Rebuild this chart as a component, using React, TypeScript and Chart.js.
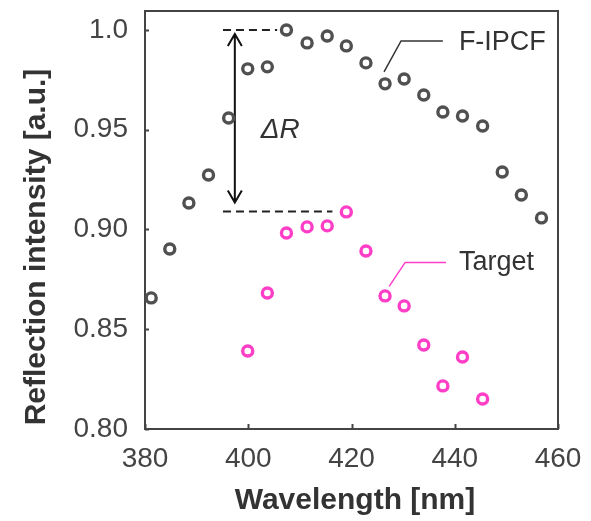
import React, { useEffect, useRef } from 'react';
import { Chart, registerables } from 'chart.js';

Chart.register(...registerables);

const wavelengths = [381.2, 384.8, 388.5, 392.3, 396.2, 399.9, 403.7, 407.4, 411.4, 415.3, 419.0, 422.8, 426.5, 430.2, 434.0, 437.7, 441.5, 445.4, 449.2, 452.9, 456.8];
const fipcfValues = [0.8657, 0.8902, 0.9133, 0.9273, 0.9559, 0.9805, 0.9815, 1.0, 0.9935, 0.997, 0.992, 0.9835, 0.973, 0.9754, 0.9674, 0.9589, 0.9569, 0.9519, 0.9288, 0.9173, 0.9058];
const targetWavelengths = [399.9, 403.7, 407.4, 411.4, 415.3, 419.0, 422.8, 426.5, 430.2, 434.0, 437.7, 441.5, 445.4];
const targetValues = [0.8391, 0.8682, 0.8982, 0.9013, 0.9018, 0.9088, 0.8892, 0.8667, 0.8617, 0.8421, 0.8216, 0.8361, 0.815];

const xTickValues = [380, 400, 420, 440, 460];
const xTickLabels = ['380', '400', '420', '440', '460'];
const yTickValues = [0.8, 0.85, 0.9, 0.95, 1.0];
const yTickLabels = ['0.80', '0.85', '0.90', '0.95', '1.0'];

const seriesNames = ['F-IPCF', 'Target'];
const xTitle = 'Wavelength [nm]';
const yTitle = 'Reflection intensity [a.u.]';
const deltaLabel = 'ΔR';

const GRAY = '#505050';
const PINK = '#ff3ec8';
const AXIS = '#444444';
const FONT = '"Liberation Sans", Arial, sans-serif';

const overlayPlugin = {
  id: 'overlay',
  beforeDatasetsDraw(chart: any) {
    const { ctx, chartArea } = chart;
    const xs = chart.scales.x;
    const ys = chart.scales.y;
    ctx.save();
    ctx.strokeStyle = AXIS;
    ctx.lineWidth = 2;
    ctx.strokeRect(chartArea.left, chartArea.top, chartArea.right - chartArea.left, chartArea.bottom - chartArea.top);
    ctx.lineWidth = 2;
    ctx.beginPath();
    yTickValues.forEach((v) => {
      const py = Math.round(ys.getPixelForValue(v)) + 0.5;
      ctx.moveTo(chartArea.left, py);
      ctx.lineTo(chartArea.left + 4, py);
    });
    xTickValues.forEach((v) => {
      const px = Math.round(xs.getPixelForValue(v)) + 0.5;
      ctx.moveTo(px, chartArea.bottom);
      ctx.lineTo(px, chartArea.bottom - 5);
    });
    ctx.stroke();

    // dashed reference lines
    ctx.strokeStyle = '#222222';
    ctx.lineWidth = 2;
    ctx.setLineDash([8, 5]);
    ctx.beginPath();
    ctx.moveTo(xs.getPixelForValue(395.1), ys.getPixelForValue(1.0));
    ctx.lineTo(xs.getPixelForValue(405.6), ys.getPixelForValue(1.0));
    ctx.moveTo(xs.getPixelForValue(395.1), ys.getPixelForValue(0.909));
    ctx.lineTo(xs.getPixelForValue(416.3), ys.getPixelForValue(0.909));
    ctx.stroke();
    ctx.setLineDash([]);

    // double arrow
    const ax = xs.getPixelForValue(397.4);
    const ay1 = ys.getPixelForValue(0.998);
    const ay2 = ys.getPixelForValue(0.9135);
    ctx.strokeStyle = '#111111';
    ctx.lineWidth = 2;
    ctx.beginPath();
    ctx.moveTo(ax, ay1);
    ctx.lineTo(ax, ay2);
    ctx.moveTo(ax - 7, ay1 + 12);
    ctx.lineTo(ax, ay1);
    ctx.lineTo(ax + 7, ay1 + 12);
    ctx.moveTo(ax - 7, ay2 - 12);
    ctx.lineTo(ax, ay2);
    ctx.lineTo(ax + 7, ay2 - 12);
    ctx.stroke();

    // leader lines
    ctx.lineWidth = 1.5;
    ctx.strokeStyle = '#333333';
    ctx.beginPath();
    ctx.moveTo(xs.getPixelForValue(426.3), ys.getPixelForValue(0.979));
    ctx.lineTo(xs.getPixelForValue(429.6), ys.getPixelForValue(0.9945));
    ctx.lineTo(xs.getPixelForValue(437.7), ys.getPixelForValue(0.9945));
    ctx.stroke();
    ctx.strokeStyle = PINK;
    ctx.beginPath();
    ctx.moveTo(xs.getPixelForValue(427.3), ys.getPixelForValue(0.8715));
    ctx.lineTo(xs.getPixelForValue(430.4), ys.getPixelForValue(0.8835));
    ctx.lineTo(xs.getPixelForValue(438.3), ys.getPixelForValue(0.8835));
    ctx.stroke();

    // labels
    ctx.fillStyle = '#333333';
    ctx.textBaseline = 'middle';
    ctx.textAlign = 'left';
    ctx.font = `27px ${FONT}`;
    ctx.fillText(seriesNames[0], xs.getPixelForValue(440.8), ys.getPixelForValue(0.9935));
    ctx.fillText(seriesNames[1], xs.getPixelForValue(440.8), ys.getPixelForValue(0.8835));
    ctx.font = `italic 28px ${FONT}`;
    ctx.textAlign = 'center';
    ctx.fillText(deltaLabel, xs.getPixelForValue(406.2), ys.getPixelForValue(0.950));

    // axis titles
    ctx.font = `bold 30px ${FONT}`;
    ctx.fillStyle = '#333333';
    ctx.textAlign = 'center';
    ctx.fillText(xTitle, 355, 501);
    ctx.translate(37, 247);
    ctx.rotate(-Math.PI / 2);
    ctx.fillText(yTitle, 0, 0);
    ctx.restore();
  },
};

export default function App() {
  const canvasRef = useRef<HTMLCanvasElement | null>(null);

  useEffect(() => {
    document.body.style.margin = '0';
    const canvas = canvasRef.current;
    if (!canvas) return;
    const chart = new Chart(canvas, {
      type: 'scatter',
      data: {
        datasets: [
          {
            label: seriesNames[0],
            data: wavelengths.map((x, i) => ({ x, y: fipcfValues[i] })),
            borderColor: GRAY,
            backgroundColor: 'rgba(255,255,255,0)',
            pointRadius: 5,
            pointBorderWidth: 3.4,
            pointHoverRadius: 5,
          },
          {
            label: seriesNames[1],
            data: targetWavelengths.map((x, i) => ({ x, y: targetValues[i] })),
            borderColor: PINK,
            backgroundColor: 'rgba(255,255,255,0)',
            pointRadius: 5,
            pointBorderWidth: 3.4,
            pointHoverRadius: 5,
          },
        ],
      },
      options: {
        responsive: false,
        animation: false,
        events: [],
        layout: { padding: { left: 0, right: 33, top: 11, bottom: 0 } },
        plugins: { legend: { display: false }, tooltip: { enabled: false } },
        scales: {
          x: {
            type: 'linear',
            min: 380,
            max: 460,
            grid: { display: false, drawTicks: false },
            border: { display: false },
            afterBuildTicks: (scale: any) => {
              scale.ticks = xTickValues.map((v) => ({ value: v }));
            },
            afterFit: (scale: any) => {
              scale.height = 92;
              scale.paddingLeft = 0;
              scale.paddingRight = 0;
            },
            ticks: {
              padding: 13,
              color: AXIS,
              font: { family: FONT, size: 28 },
              maxRotation: 0,
              callback: (v: any) => {
                const i = xTickValues.indexOf(Number(v));
                return i >= 0 ? xTickLabels[i] : '';
              },
            },
          },
          y: {
            type: 'linear',
            min: 0.8,
            max: 1.0095,
            grid: { display: false, drawTicks: false },
            border: { display: false },
            afterBuildTicks: (scale: any) => {
              scale.ticks = yTickValues.map((v) => ({ value: v }));
            },
            afterFit: (scale: any) => {
              scale.width = 145;
              scale.paddingTop = 0;
              scale.paddingBottom = 0;
            },
            ticks: {
              padding: 17,
              color: AXIS,
              font: { family: FONT, size: 28 },
              callback: (v: any) => {
                const i = yTickValues.findIndex((t) => Math.abs(t - Number(v)) < 1e-6);
                return i >= 0 ? yTickLabels[i] : '';
              },
            },
          },
        },
      },
      plugins: [overlayPlugin],
    });
    return () => chart.destroy();
  }, []);

  return (
    <div style={{ width: 591, height: 521, background: '#ffffff' }}>
      <canvas ref={canvasRef} width={591} height={521} style={{ display: 'block' }} />
    </div>
  );
}
